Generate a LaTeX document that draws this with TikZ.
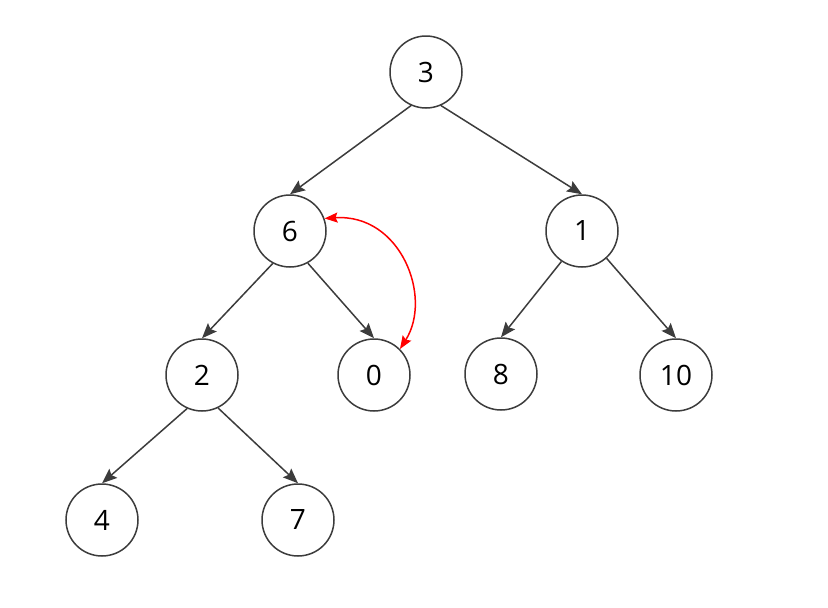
\documentclass[tikz,border=0pt]{standalone}
\usepackage{fontspec}
\setmainfont{Open Sans}
\usetikzlibrary{arrows.meta}
\definecolor{ln}{HTML}{3C3C3C}
\begin{document}
\begin{tikzpicture}[x=1pt,y=-1pt,
  tn/.style={circle,draw=ln,line width=1.5pt,minimum size=72pt,inner sep=0pt,font=\fontsize{28}{32}\selectfont},
  edge/.style={draw=ln,line width=1.5pt,-{Stealth[length=15pt,width=12pt,inset=2.5pt]}},
  swap/.style={draw=red,line width=1.5pt,{Stealth[length=13pt,width=10pt,inset=2pt]}-{Stealth[length=13pt,width=10pt,inset=2pt]}}]
\useasboundingbox (0,0) rectangle (828,608);
\node[tn] (n3) at (426,72) {3};
\node[tn] (n6) at (290,231) {6};
\node[tn] (n1) at (582,231) {1};
\node[tn] (n2) at (202,375) {2};
\node[tn] (n0) at (374,375) {0};
\node[tn] (n8) at (501,374) {8};
\node[tn] (n10) at (676,375) {10};
\node[tn] (n4) at (102,520) {4};
\node[tn] (n7) at (298,520) {7};
\draw[edge] (n3.246) -- (n6.north);
\draw[edge] (n3.294) -- (n1.north);
\draw[edge] (n6.242) -- (n2.north);
\draw[edge] (n6.299) -- (n0.north);
\draw[edge] (n1.236) -- (n8.north);
\draw[edge] (n1.312) -- (n10.north);
\draw[edge] (n2.246) -- (n4.north);
\draw[edge] (n2.296) -- (n7.north);
\draw[swap] (n6.20) .. controls +(76,-5) and +(33,-52) .. (n0.45);
\end{tikzpicture}
\end{document}
